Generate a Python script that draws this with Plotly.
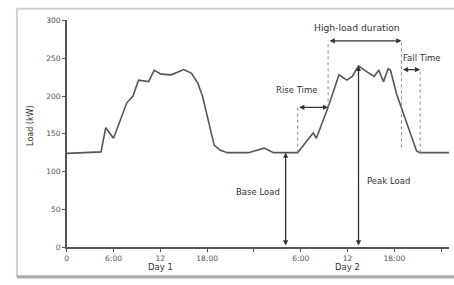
import plotly.graph_objects as go

# Load profile (hours from start of Day 1, kW)
hours = [0, 4.4, 5.0, 6.0, 7.7, 8.5, 9.2, 10.5, 11.2, 12.1, 13.4, 15.0, 16.0, 16.8, 17.4,
         18.1, 18.9, 19.7, 20.6, 23.3, 24.3, 25.3, 26.5, 28.1, 29.6, 30.9, 31.6, 32.0,
         33.5, 34.9, 35.9, 36.6, 37.4, 38.5, 39.4, 40.0, 40.6, 41.2, 41.5, 42.3, 44.85,
         45.3, 49.0]
load = [124, 126, 158, 144, 191, 200, 221, 219, 234, 229, 228, 235, 230, 217, 200,
        168, 135, 128, 125, 125, 128, 131, 125, 125, 125, 142, 151, 144,
        185, 228, 221, 226, 240, 232, 226, 234, 219, 236, 234, 202, 127,
        125, 125]

# x tick positions / labels
tick_hours = [0, 6, 12, 18, 24, 30, 36, 42, 48]
tick_labels = ["0", "6:00", "12", "18:00", "", "6:00", "12", "18:00", ""]
y_ticks = [0, 50, 100, 150, 200, 250, 300]
day_hours = [12, 36]
day_labels = ["Day 1", "Day 2"]

# Characteristic events
base_time, base_load = 28.06, 125
peak_time, peak_load = 37.4, 240
rise_start, high_start = 29.6, 33.5
high_end, fall_end = 42.9, 45.3
rise_level, high_level, fall_level = 185, 273, 235

LINE = "#555555"
TXT = "#505050"
FONT = "DejaVu Sans"
W, H = 454, 285

fig = go.Figure()
fig.add_trace(go.Scatter(x=hours, y=load, mode="lines",
                         line=dict(color=LINE, width=1.6), showlegend=False,
                         hoverinfo="skip"))

shapes = []
# outer frame
shapes.append(dict(type="rect", xref="paper", yref="paper", x0=15 / W, x1=1.03,
                   y0=4 / H, y1=(H - 5) / H, line=dict(color="#d0d0d0", width=2),
                   fillcolor="rgba(0,0,0,0)", layer="above"))
shapes.append(dict(type="line", xref="paper", yref="paper", x0=15 / W, x1=1.0,
                   y0=3 / H, y1=3 / H, line=dict(color="#a8a8a8", width=3)))
# dotted guide lines
for xv, y0, y1 in [(rise_start, base_load, rise_level + 3),
                   (high_start, rise_level, high_level),
                   (high_end, 132, high_level),
                   (fall_end, base_load, fall_level)]:
    shapes.append(dict(type="line", xref="x", yref="y", x0=xv, x1=xv, y0=y0, y1=y1,
                       line=dict(color="#888888", width=1, dash="dot")))

ann = []
def arrow(x, y, ax, ay):
    ann.append(dict(x=x, y=y, ax=ax, ay=ay, xref="x", yref="y", axref="x", ayref="y",
                    text="", showarrow=True, arrowhead=2, arrowsize=0.8,
                    arrowwidth=1.3, arrowcolor="#333333", arrowside="end+start"))

arrow(base_time, base_load, base_time, 0)
arrow(peak_time, peak_load, peak_time, 0)
arrow(high_start, rise_level, rise_start, rise_level)
arrow(high_end, high_level, high_start, high_level)
arrow(fall_end, fall_level, high_end, fall_level)

def label(text, x, y, xanchor="center", size=8.5):
    ann.append(dict(x=x, y=y, xref="x", yref="y", text=text, showarrow=False,
                    xanchor=xanchor, yanchor="middle",
                    font=dict(family=FONT, size=size, color="#333333")))

label("High-load duration", 37.2, 291, size=9.2)
label("Rise Time", 29.4, 208)
label("Fall Time", high_end, 250, "left")
label("Peak Load", 38.2, 87, "left")
label("Base Load", 27.6, 73, "right")

for h, t in zip(day_hours, day_labels):
    ann.append(dict(x=h, y=(H - 272) / H, xref="x", yref="paper", text=t,
                    showarrow=False, xanchor="center", yanchor="middle",
                    font=dict(family=FONT, size=8.5, color="#333333")))
ann.append(dict(x=28 / W, y=(H - 125) / H, xref="paper", yref="paper", text="Load (kW)",
                showarrow=False, textangle=-90, xanchor="center", yanchor="middle",
                font=dict(family=FONT, size=8, color="#333333")))

fig.update_layout(
    width=W, height=H,
    margin=dict(l=0, r=0, t=0, b=0),
    paper_bgcolor="white", plot_bgcolor="white",
    shapes=shapes, annotations=ann,
    xaxis=dict(domain=[65 / W, 449 / W], range=[0, 49], tickvals=tick_hours,
               ticktext=tick_labels, showline=True, linecolor=LINE, linewidth=1.5,
               ticks="outside", ticklen=3, tickcolor=LINE, showgrid=False,
               zeroline=False, tickfont=dict(family=FONT, size=7.5, color=TXT)),
    yaxis=dict(domain=[(H - 251) / H, (H - 17) / H], range=[0, 300], tickvals=y_ticks,
               showline=True, linecolor=LINE, linewidth=1.5, ticks="outside",
               ticklen=3, tickcolor=LINE, showgrid=False, zeroline=False,
               tickfont=dict(family=FONT, size=7.5, color=TXT)),
)

fig.write_html("out.html",
               config={"displayModeBar": False},
               post_script="document.body.style.margin='0';"
                           "document.body.style.overflow='hidden';")
